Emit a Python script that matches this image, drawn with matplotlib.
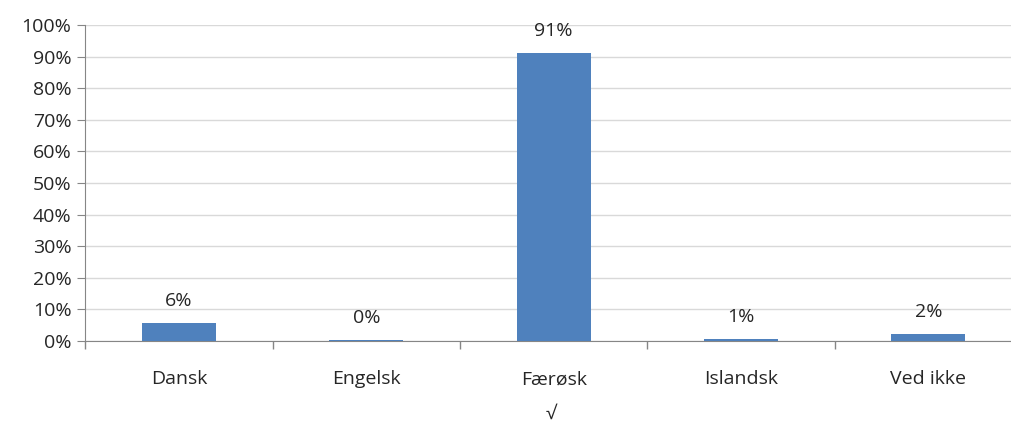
import matplotlib.pyplot as plt
from matplotlib.ticker import FuncFormatter, FixedLocator

categories = ["Dansk", "Engelsk", "Færøsk", "Islandsk", "Ved ikke"]
values = [5.7, 0.4, 91.1, 0.7, 2.2]
labels = ["6%", "0%", "91%", "1%", "2%"]

plt.rcParams['font.family'] = ['Open Sans', 'DejaVu Sans']

fig = plt.figure(figsize=(10.12, 4.26), dpi=100)
ax = fig.add_axes([85.4 / 1012, 85 / 426, 936.5 / 1012, 316 / 426])

x = list(range(len(categories)))
ax.bar(x, values, width=0.395, color='#4F81BD', zorder=3)
for xi, v, lab in zip(x, values, labels):
    ax.text(xi, v + 4, lab, ha='center', va='bottom', fontsize=14, color='#262626')

ax.set_xlim(-0.5, 4.5)
ax.set_ylim(0, 100)
ax.set_yticks(range(0, 101, 10))
ax.yaxis.set_major_formatter(FuncFormatter(lambda v, p: "{:d}%".format(int(v))))
ax.grid(axis='y', color='#D9D9D9', linewidth=1, zorder=0)

ax.set_xticks(x)
ax.set_xticklabels(categories)
ax.xaxis.set_minor_locator(FixedLocator([i - 0.5 for i in range(6)]))
ax.tick_params(axis='x', which='major', length=0, pad=21, labelsize=14, labelcolor='#262626')
ax.tick_params(axis='x', which='minor', length=6, color='#868686', width=1)
ax.tick_params(axis='y', length=6, color='#868686', labelsize=14, labelcolor='#262626', pad=4)

for s in ['top', 'right']:
    ax.spines[s].set_visible(False)
ax.spines['left'].set_color('#868686')
ax.spines['bottom'].set_color('#868686')

fig.text(551 / 1012, 1 - 414 / 426, "√", ha='center', va='center', fontsize=14, color='#262626')

fig.savefig("out.png", dpi=100)
